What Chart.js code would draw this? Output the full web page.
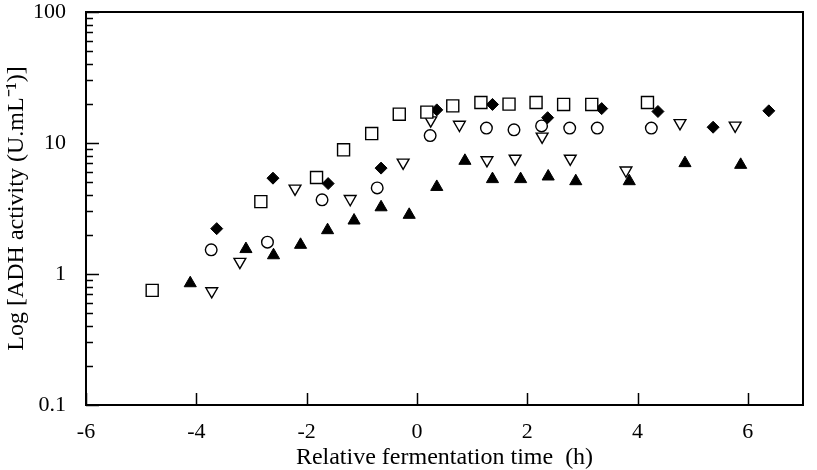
<!DOCTYPE html>
<html>
<head>
<meta charset="utf-8">
<script src="https://cdn.jsdelivr.net/npm/chart.js@4"></script>
<style>
  html, body { margin: 0; padding: 0; background: #fff; }
  #box { width: 817px; height: 470px; }
</style>
</head>
<body>
<div id="box"><canvas id="grafico"></canvas></div>
<script>
// dados
const quadX = [-4.8, -2.83, -1.82, -1.33, -0.82, -0.32, 0.18, 0.65, 1.16, 1.67, 2.16, 2.66, 3.17, 4.18];
const quadY = [0.75, 3.57, 5.45, 8.87, 11.8, 16.6, 17.2, 19.2, 20.4, 19.8, 20.4, 19.7, 19.7, 20.4];

const losX = [-3.63, -2.61, -1.61, -0.65, 0.36, 1.37, 2.37, 3.35, 4.37, 5.37, 6.38];
const losY = [2.22, 5.39, 4.9, 6.43, 17.9, 19.7, 15.6, 18.3, 17.4, 13.2, 17.6];

const circX = [-3.73, -2.71, -1.72, -0.72, 0.24, 1.26, 1.76, 2.26, 2.77, 3.27, 4.25];
const circY = [1.53, 1.75, 3.68, 4.54, 11.4, 13.0, 12.6, 13.5, 13.0, 13.0, 13.0];

const triBaixoX = [-3.72, -3.21, -2.21, -1.21, -0.25, 0.25, 0.77, 1.27, 1.78, 2.27, 2.78, 3.79, 4.77, 5.77];
const triBaixoY = [0.74, 1.24, 4.49, 3.74, 7.1, 14.9, 13.8, 7.4, 7.6, 11.2, 7.6, 6.17, 14.2, 13.6];

const triCimaX = [-4.11, -3.1, -2.6, -2.11, -1.62, -1.14, -0.65, -0.14, 0.36, 0.87, 1.37, 1.88, 2.38, 2.88, 3.85, 4.86, 5.87];
const triCimaY = [0.85, 1.55, 1.39, 1.67, 2.16, 2.56, 3.23, 2.83, 4.62, 7.31, 5.3, 5.3, 5.55, 5.11, 5.11, 7.02, 6.81];

const xTicks = [-6, -4, -2, 0, 2, 4, 6];
const yTicks = [0.1, 1, 10, 100];

const fonte = "'Liberation Serif', 'Times New Roman', serif";

function pontos(xs, ys) {
  return xs.map((x, i) => ({ x: x, y: ys[i] }));
}

/* moldura e marcas para dentro */
const moldura = {
  id: "moldura",
  afterDraw(chart) {
    const ctx = chart.ctx;
    const a = chart.chartArea;
    const sx = chart.scales.x;
    const sy = chart.scales.y;
    ctx.save();
    ctx.strokeStyle = "#000";
    ctx.lineWidth = 1.5;
    ctx.beginPath();
    sx.ticks.forEach(t => {
      const px = Math.round(sx.getPixelForValue(t.value)) + 0.5;
      ctx.moveTo(px, a.bottom);
      ctx.lineTo(px, a.bottom - 12);
    });
    sy.ticks.forEach(t => {
      const py = Math.round(sy.getPixelForValue(t.value)) + 0.5;
      const len = yTicks.includes(t.value) ? 13 : 7;
      ctx.moveTo(a.left, py);
      ctx.lineTo(a.left + len, py);
    });
    ctx.stroke();
    ctx.lineWidth = 2;
    ctx.strokeRect(a.left, a.top, a.right - a.left, a.bottom - a.top);
    ctx.restore();
  }
};

new Chart(document.getElementById("grafico"), {
  type: "scatter",
  data: {
    datasets: [
      { data: pontos(quadX, quadY), pointStyle: "rect", pointRadius: 8.5, borderWidth: 1.4, borderColor: "#000", backgroundColor: "#fff" },
      { data: pontos(circX, circY), pointStyle: "circle", pointRadius: 5.8, borderWidth: 1.4, borderColor: "#000", backgroundColor: "#fff" },
      { data: pontos(triBaixoX, triBaixoY), pointStyle: "triangle", pointRotation: 180, pointRadius: 6.8, borderWidth: 1.4, borderColor: "#000", backgroundColor: "#fff" },
      { data: pontos(triCimaX, triCimaY), pointStyle: "triangle", pointRadius: 7, borderWidth: 1, borderColor: "#000", backgroundColor: "#000" },
      { data: pontos(losX, losY), pointStyle: "rectRot", pointRadius: 6, borderWidth: 1, borderColor: "#000", backgroundColor: "#000" }
    ]
  },
  options: {
    responsive: true,
    maintainAspectRatio: false,
    animation: false,
    layout: { padding: { top: 12, right: 14, bottom: 0, left: 0 } },
    plugins: { legend: { display: false }, tooltip: { enabled: false } },
    scales: {
      x: {
        type: "linear",
        min: -6,
        max: 7,
        afterBuildTicks: s => { s.ticks = xTicks.map(v => ({ value: v })); },
        afterFit: s => { s.height = 65; s.paddingLeft = 0; s.paddingRight = 0; },
        grid: { display: false },
        border: { display: false },
        ticks: { color: "#000", font: { family: fonte, size: 22 }, padding: 6, maxRotation: 0, autoSkip: false },
        title: { display: true, text: "Relative fermentation time  (h)", color: "#000", font: { family: fonte, size: 24, lineHeight: 1 }, padding: 0 }
      },
      y: {
        type: "logarithmic",
        min: 0.1,
        max: 100,
        afterBuildTicks: s => {
          const t = [];
          yTicks.forEach((v, i) => {
            t.push({ value: v, major: true });
            if (i < yTicks.length - 1) {
              for (let k = 2; k <= 9; k++) t.push({ value: +(v * k).toPrecision(3) });
            }
          });
          s.ticks = t;
        },
        afterFit: s => { s.width = 86; s.paddingTop = 0; s.paddingBottom = 0; },
        grid: { display: false },
        border: { display: false },
        ticks: {
          color: "#000",
          font: { family: fonte, size: 22 },
          padding: 12,
          autoSkip: false,
          callback: v => yTicks.includes(v) ? String(v) : ""
        },
        title: { display: true, text: "Log [ADH activity (U.mL\u207B\u00B9)]", color: "#000", font: { family: fonte, size: 24, lineHeight: 1 }, padding: { top: 5, bottom: 5 } }
      }
    }
  },
  plugins: [moldura]
});
</script>
</body>
</html>
